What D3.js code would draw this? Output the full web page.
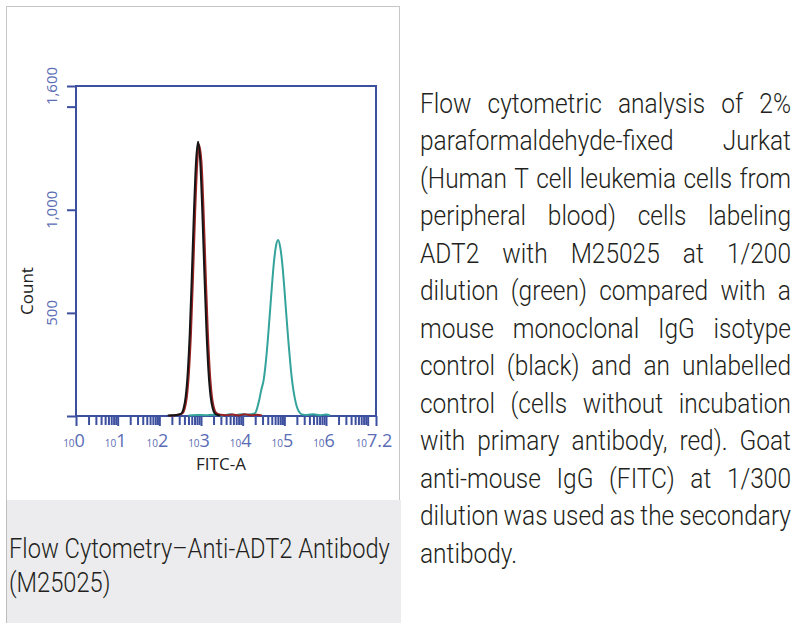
<!DOCTYPE html>
<html>
<head>
<meta charset="utf-8">
<script src="https://cdn.jsdelivr.net/npm/d3@7/dist/d3.min.js"></script>
<style>
  body { margin: 0; background: #fff; }
</style>
</head>
<body>
<div id="chart-area"></div>
<script>

// ---- data (x in decades of FITC-A, y in counts) ----
const blackLog   = [2.20, 2.35, 2.45, 2.53, 2.58, 2.63, 2.68, 2.73, 2.78, 2.83, 2.88, 2.93, 2.98, 3.03, 3.08, 3.13, 3.18, 3.23, 3.28, 3.33, 3.40, 3.46];
const blackCount = [3, 4, 6, 12, 35, 90, 205, 400, 680, 985, 1230, 1330, 1240, 1000, 700, 420, 215, 95, 38, 13, 5, 2];

const redLog   = [2.24, 2.38, 2.48, 2.56, 2.61, 2.66, 2.71, 2.76, 2.81, 2.86, 2.91, 2.95, 3.01, 3.06, 3.11, 3.16, 3.21, 3.26, 3.31, 3.37, 3.47, 3.60, 3.75, 3.90, 4.05, 4.20, 4.35, 4.46];
const redCount = [2, 4, 7, 13, 36, 92, 210, 405, 685, 990, 1225, 1315, 1235, 1005, 705, 425, 220, 98, 40, 14, 6, 4, 7, 3, 8, 4, 6, 3];

const greenLog   = [2.70, 2.90, 3.10, 3.30, 3.50, 3.70, 3.85, 4.00, 4.10, 4.20, 4.30, 4.35, 4.40, 4.45, 4.50, 4.55, 4.60, 4.65, 4.70, 4.75, 4.80, 4.85, 4.90, 4.95, 5.00, 5.05, 5.10, 5.15, 5.20, 5.25, 5.30, 5.35, 5.42, 5.55, 5.70, 5.85, 6.00, 6.10];
const greenCount = [3, 5, 4, 6, 3, 8, 5, 9, 6, 8, 14, 40, 80, 130, 170, 250, 360, 490, 625, 745, 825, 853, 820, 740, 620, 485, 355, 240, 150, 88, 45, 22, 8, 5, 9, 4, 7, 3];

const yTickValues  = [0, 500, 1000, 1500, 1600];
const yLabelValues = [500, 1000, 1600];
const xDecades     = [0, 1, 2, 3, 4, 5, 6, 7];
const xLabelExps   = ['0', '1', '2', '3', '4', '5', '6', '7.2'];

const caption = ['Flow Cytometry\u2013Anti-ADT2 Antibody', '(M25025)'];
const paraLines = [
  'Flow cytometric analysis of 2%',
  'paraformaldehyde-fixed Jurkat',
  '(Human T cell leukemia cells from',
  'peripheral blood) cells labeling',
  'ADT2 with M25025 at 1/200',
  'dilution (green) compared with a',
  'mouse monoclonal IgG isotype',
  'control (black) and an unlabelled',
  'control (cells without incubation',
  'with primary antibody, red). Goat',
  'anti-mouse IgG (FITC) at 1/300',
  'dilution was used as the secondary',
  'antibody.'
];

const axisBlue = '#3d4f9f';
const labelBlue = '#5b6db5';
const textFont = 'Roboto, "Liberation Sans", sans-serif';

const svg = d3.select('#chart-area').append('svg')
  .attr('width', 800)
  .attr('height', 634);

// panel frame + grey caption box
svg.append('rect')
  .attr('x', 6.5).attr('y', 6.5)
  .attr('width', 393).attr('height', 494)
  .attr('fill', 'none')
  .attr('stroke', '#c6c6c6');
svg.append('rect')
  .attr('x', 6).attr('y', 500)
  .attr('width', 395).attr('height', 123)
  .attr('fill', '#ececee');
svg.append('line')
  .attr('x1', 6.5).attr('x2', 6.5)
  .attr('y1', 500).attr('y2', 623)
  .attr('stroke', '#bdbdbd');

// scales
const plot = { left: 76, right: 376, top: 86, bottom: 416 };

let x = d3.scaleLog()
  .domain([1, Math.pow(10, 7.2)])
  .range([plot.left, plot.right]);

let y = d3.scaleLinear()
  .domain([0, 1600])
  .range([plot.bottom, plot.top]);

// x axis: decade ticks + minor ticks 2..9
let minorTicks = [];
xDecades.forEach(d => {
  for (let m = 2; m <= 9; m++) {
    let v = m * Math.pow(10, d);
    if (v < x.domain()[1]) minorTicks.push(v);
  }
});

let xAxisMinor = d3.axisBottom(x)
  .tickValues(minorTicks)
  .tickSize(9)
  .tickFormat('');
let xAxisMajor = d3.axisBottom(x)
  .tickValues(xDecades.map(d => Math.pow(10, d)).concat([Math.pow(10, 7.2)]))
  .tickSize(10)
  .tickFormat('');

[xAxisMinor, xAxisMajor].forEach(ax => {
  let g = svg.append('g')
    .attr('transform', 'translate(0, ' + plot.bottom + ')')
    .call(ax);
  g.select('.domain').remove();
  g.selectAll('line').attr('stroke', axisBlue).attr('stroke-width', 2);
});

// y axis ticks pointing left
let yAxisCall = d3.axisLeft(y)
  .tickValues(yTickValues)
  .tickSize(9)
  .tickFormat('');
let yg = svg.append('g')
  .attr('transform', 'translate(' + plot.left + ', 0)')
  .call(yAxisCall);
yg.select('.domain').remove();
yg.selectAll('line').attr('stroke', axisBlue).attr('stroke-width', 2);

// plot frame
svg.append('rect')
  .attr('x', plot.left).attr('y', plot.top)
  .attr('width', plot.right - plot.left)
  .attr('height', plot.bottom - plot.top)
  .attr('fill', 'none')
  .attr('stroke', axisBlue)
  .attr('stroke-width', 2);

// y tick labels (rotated)
svg.selectAll('.y-label')
  .data(yLabelValues)
  .enter()
  .append('text')
    .attr('class', 'y-label')
    .attr('transform', d => 'translate(57, ' + y(d) + ') rotate(-90)')
    .attr('text-anchor', 'middle')
    .attr('font-family', '"Open Sans", sans-serif')
    .attr('font-size', '15px')
    .attr('fill', labelBlue)
    .text(d => d3.format(',')(d));

// x tick labels: small "10" + large exponent
let xl = svg.selectAll('.x-label')
  .data(xLabelExps)
  .enter()
  .append('text')
    .attr('class', 'x-label')
    .attr('x', d => x(Math.pow(10, +d)) - 2)
    .attr('y', 447)
    .attr('text-anchor', 'middle')
    .attr('font-family', '"Open Sans", sans-serif')
    .attr('fill', labelBlue);
xl.append('tspan').attr('font-size', '10px').text('10');
xl.append('tspan').attr('font-size', '18px').text(d => d);

// axis titles
svg.append('text')
  .attr('x', 221)
  .attr('y', 470)
  .attr('text-anchor', 'middle')
  .attr('font-family', '"Open Sans", sans-serif')
  .attr('font-size', '17px')
  .attr('fill', '#222')
  .text('FITC-A');

svg.append('text')
  .attr('transform', 'translate(33, 291) rotate(-90)')
  .attr('text-anchor', 'middle')
  .attr('font-family', '"Open Sans", sans-serif')
  .attr('font-size', '17px')
  .attr('fill', '#222')
  .text('Count');

// histogram lines
let line = d3.line()
  .x(d => x(Math.pow(10, d[0])))
  .y(d => y(d[1]))
  .curve(d3.curveMonotoneX);

const series = [
  { xs: greenLog, ys: greenCount, color: '#33a39b' },
  { xs: redLog,   ys: redCount,   color: '#9b2224' },
  { xs: blackLog, ys: blackCount, color: '#151515' }
];
series.forEach(s => {
  svg.append('path')
    .datum(s.xs.map((v, i) => [v, s.ys[i]]))
    .attr('d', line)
    .attr('fill', 'none')
    .attr('stroke', s.color)
    .attr('stroke-width', 2)
    .attr('stroke-linejoin', 'round');
});

// measure a piece of text in the body font (unscaled)
function measure(txt, size) {
  let t = svg.append('text')
    .attr('font-family', textFont)
    .attr('font-size', size)
    .attr('font-weight', 300)
    .text(txt);
  let w = t.node().getComputedTextLength();
  t.remove();
  return w;
}

// caption in grey box
let capScale = 381 / measure(caption[0], '27px');
let cap = svg.append('g')
  .attr('transform', 'translate(9, 0) scale(' + capScale + ', 1)');
cap.selectAll('text')
  .data(caption)
  .enter()
  .append('text')
    .attr('x', 0)
    .attr('y', (d, i) => 558 + i * 34)
    .attr('font-family', textFont)
    .attr('font-size', '27px')
    .attr('font-weight', 300)
    .attr('fill', '#231f20')
    .text(d => d);

// justified paragraph on the right; squeeze so the tightest line keeps small gaps
const paraLeft = 420, paraWidth = 371, minGap = 5;
let tight = paraLines[11].split(' ');
let tightSum = d3.sum(tight, w => measure(w, '27px'));
let paraScale = (paraWidth - minGap * (tight.length - 1)) / tightSum;
const para = svg.append('g')
  .attr('transform', 'translate(' + paraLeft + ', 0) scale(' + paraScale + ', 1)')
  .attr('font-family', textFont)
  .attr('font-size', '27px')
  .attr('font-weight', 300)
  .attr('fill', '#231f20');
let localWidth = paraWidth / paraScale;
paraLines.forEach((ln, i) => {
  let words = ln.split(' ');
  let yPos = 113 + i * 37.5;
  let nodes = words.map(w => para.append('text').attr('y', yPos).text(w));
  let widths = nodes.map(n => n.node().getComputedTextLength());
  let total = d3.sum(widths);
  let gap = (i === paraLines.length - 1 || words.length < 2) ? 6 / paraScale : (localWidth - total) / (words.length - 1);
  let cx = 0;
  nodes.forEach((n, j) => {
    n.attr('x', cx);
    cx += widths[j] + gap;
  });
});

</script>
</body>
</html>
